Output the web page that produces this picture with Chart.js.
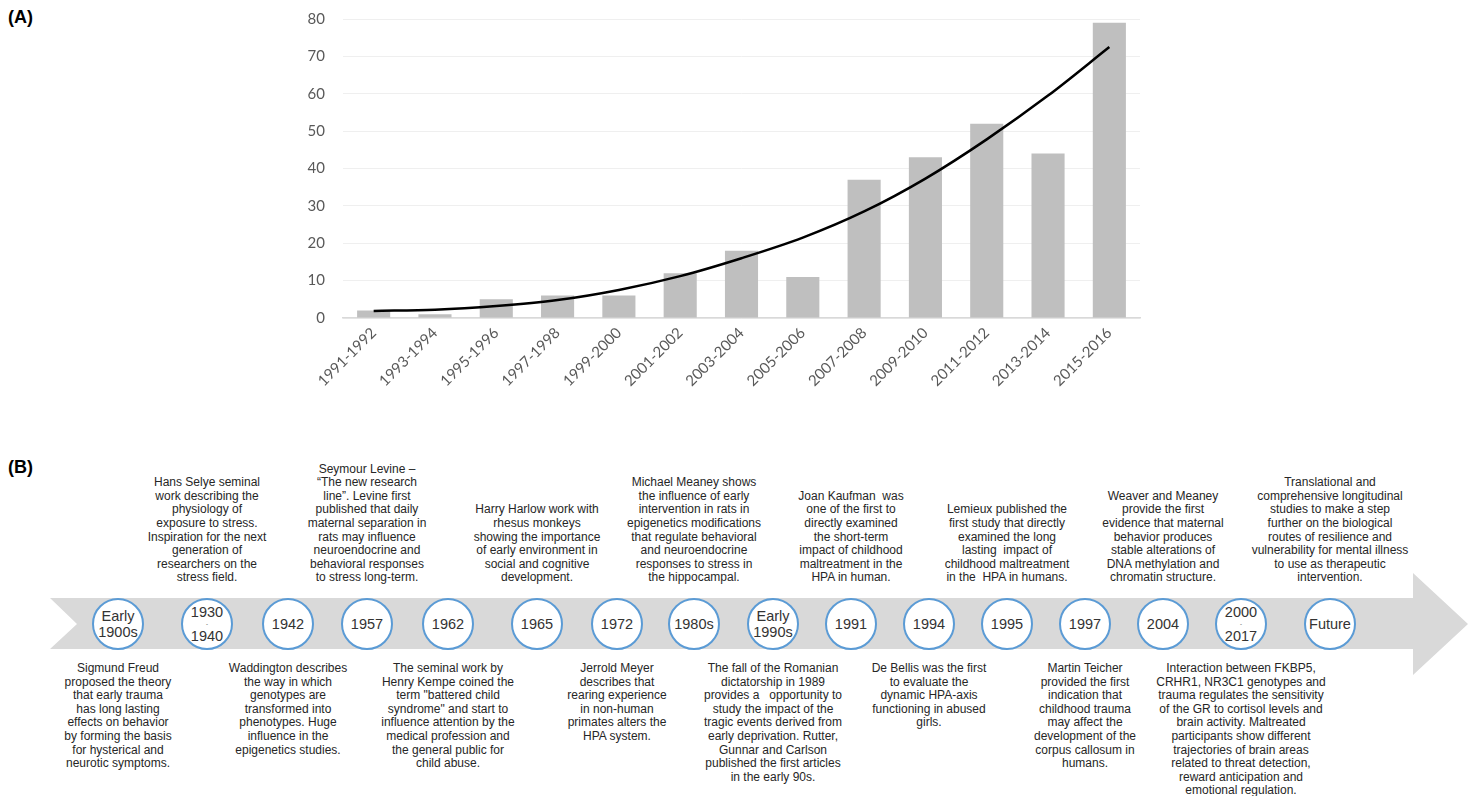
<!DOCTYPE html>
<html>
<head>
<meta charset="utf-8">
<script src="https://cdn.jsdelivr.net/npm/chart.js@4.4.1/dist/chart.umd.min.js"></script>
<style>
  body { margin: 0; background: #fff; }
  #page { position: relative; width: 1473px; height: 796px; overflow: hidden; font-family: "Liberation Sans", Arial, sans-serif; }
  .panel { position: absolute; font-weight: bold; font-size: 18px; color: #000; }
  #chartBox { position: absolute; left: 0; top: 0; width: 1473px; height: 420px; }
  #band { position: absolute; left: 50px; top: 573px; width: 1418px; height: 102px; background: #d9d9d9;
    clip-path: polygon(0 25px, 1363px 25px, 1363px 0, 1418px 51px, 1363px 102px, 1363px 76px, 0 76px, 27px 51px); }
  .dot { position: absolute; width: 48px; height: 48px; border: 2px solid #5b9bd5; border-radius: 50%; background: #fff;
    transform: translate(-50%, -50%); display: flex; flex-direction: column; align-items: center; justify-content: center;
    font-size: 14.5px; line-height: 16px; color: #333; text-align: center; }
  .dot .sep { font-size: 6px; line-height: 8px; }
  .note { position: absolute; transform: translateX(-50%); white-space: pre; text-align: center;
    font-size: 12px; line-height: 13.6px; color: #262626; }
  .up { bottom: 211px; }
  .down { top: 662px; }
</style>
</head>
<body>
<div id="page">
  <div class="panel" style="left:8px; top:7px;">(A)</div>
  <div id="chartBox"><canvas id="pubChart" width="1473" height="420"></canvas></div>
  <div class="panel" style="left:8px; top:457px;">(B)</div>
  <div id="band"></div>
  <div id="timeline"></div>
</div>
<script>
// panel A: publications per two-year period
const periods = ["1991-1992", "1993-1994", "1995-1996", "1997-1998", "1999-2000", "2001-2002", "2003-2004",
  "2005-2006", "2007-2008", "2009-2010", "2011-2012", "2013-2014", "2015-2016"];
const publications = [2, 1, 5, 6, 6, 12, 18, 11, 37, 43, 52, 44, 79];
const trendValues = [1.9, 2.2, 3.2, 4.8, 7.5, 11.2, 16, 21.5, 28.5, 37.3, 47.8, 59.5, 72.5];
const yTicks = [0, 10, 20, 30, 40, 50, 60, 70, 80];

// panel B: timeline
const milestones = ["Early\n1900s", "1930\n-\n1940", "1942", "1957", "1962", "1965", "1972", "1980s",
  "Early\n1990s", "1991", "1994", "1995", "1997", "2004", "2000\n-\n2017", "Future"];
const milestoneX = [118, 207, 288, 367, 448, 537, 617, 694, 773, 851, 929, 1007, 1085, 1163, 1241, 1330];

const notesAbove = [
  [1, "Hans Selye seminal\nwork describing the\nphysiology of\nexposure to stress.\nInspiration for the next\ngeneration of\nresearchers on the\nstress field."],
  [3, "Seymour Levine –\n“The new research\nline”. Levine first\npublished that daily\nmaternal separation in\nrats may influence\nneuroendocrine and\nbehavioral responses\nto stress long-term."],
  [5, "Harry Harlow work with\nrhesus monkeys\nshowing the importance\nof early environment in\nsocial and cognitive\ndevelopment."],
  [7, "Michael Meaney shows\nthe influence of early\nintervention in rats in\nepigenetics modifications\nthat regulate behavioral\nand neuroendocrine\nresponses to stress in\nthe hippocampal."],
  [9, "Joan Kaufman  was\none of the first to\ndirectly examined\nthe short-term\nimpact of childhood\nmaltreatment in the\nHPA in human."],
  [11, "Lemieux published the\nfirst study that directly\nexamined the long\nlasting  impact of\nchildhood maltreatment\nin the  HPA in humans."],
  [13, "Weaver and Meaney\nprovide the first\nevidence that maternal\nbehavior produces\nstable alterations of\nDNA methylation and\nchromatin structure."],
  [15, "Translational and\ncomprehensive longitudinal\nstudies to make a step\nfurther on the biological\nroutes of resilience and\nvulnerability for mental illness\nto use as therapeutic\nintervention."]
];

const notesBelow = [
  [0, "Sigmund Freud\nproposed the theory\nthat early trauma\nhas long lasting\neffects on behavior\nby forming the basis\nfor hysterical and\nneurotic symptoms."],
  [2, "Waddington describes\nthe way in which\ngenotypes are\ntransformed into\nphenotypes. Huge\ninfluence in the\nepigenetics studies."],
  [4, "The seminal work by\nHenry Kempe coined the\nterm \"battered child\nsyndrome\" and start to\ninfluence attention by the\nmedical profession and\nthe general public for\nchild abuse."],
  [6, "Jerrold Meyer\ndescribes that\nrearing experience\nin non-human\nprimates alters the\nHPA system."],
  [8, "The fall of the Romanian\ndictatorship in 1989\nprovides a   opportunity to\nstudy the impact of the\ntragic events derived from\nearly deprivation. Rutter,\nGunnar and Carlson\npublished the first articles\nin the early 90s."],
  [10, "De Bellis was the first\nto evaluate the\ndynamic HPA-axis\nfunctioning in abused\ngirls."],
  [12, "Martin Teicher\nprovided the first\nindication that\nchildhood trauma\nmay affect the\ndevelopment of the\ncorpus callosum in\nhumans."],
  [14, "Interaction between FKBP5,\nCRHR1, NR3C1 genotypes and\ntrauma regulates the sensitivity\nof the GR to cortisol levels and\nbrain activity. Maltreated\nparticipants show different\ntrajectories of brain areas\nrelated to threat detection,\nreward anticipation and\nemotional regulation."]
];

const axisFont = { family: "Lato, 'Open Sans', sans-serif", size: 15 };

new Chart(document.getElementById("pubChart"), {
  data: {
    labels: periods,
    datasets: [
      {
        type: "line",
        data: trendValues,
        borderColor: "#000",
        borderWidth: 2.5,
        pointRadius: 0,
        cubicInterpolationMode: "monotone",
        order: 0
      },
      {
        type: "bar",
        data: publications,
        backgroundColor: "#bfbfbf",
        categoryPercentage: 1,
        barPercentage: 0.54,
        order: 1
      }
    ]
  },
  options: {
    responsive: false,
    animation: false,
    layout: { padding: { top: 19, right: 333, left: 0, bottom: 0 } },
    plugins: { legend: { display: false }, tooltip: { enabled: false } },
    scales: {
      x: {
        offset: true,
        grid: { display: false, drawTicks: false },
        border: { color: "#d9d9d9", width: 1.5 },
        ticks: { color: "#595959", font: axisFont, minRotation: 45, maxRotation: 45, padding: 6 },
        afterFit: s => { s.height = 102; s.paddingLeft = 0; s.paddingRight = 0; }
      },
      y: {
        min: 0,
        max: 80,
        afterBuildTicks: s => { s.ticks = yTicks.map(v => ({ value: v })); },
        grid: { color: "#efefef", drawTicks: false },
        border: { display: false },
        ticks: { color: "#595959", font: axisFont, padding: 18 },
        afterFit: s => { s.width = 343; s.paddingTop = 0; s.paddingBottom = 0; }
      }
    }
  }
});

const timeline = document.getElementById("timeline");
milestones.forEach((m, i) => {
  const dot = document.createElement("div");
  dot.className = "dot";
  dot.style.left = milestoneX[i] + "px";
  dot.style.top = "624px";
  m.split("\n").forEach(part => {
    const span = document.createElement("span");
    span.textContent = part;
    if (part === "-") span.className = "sep";
    dot.appendChild(span);
  });
  timeline.appendChild(dot);
});

function addNotes(list, cls) {
  list.forEach(([idx, text]) => {
    const el = document.createElement("div");
    el.className = "note " + cls;
    el.style.left = milestoneX[idx] + "px";
    el.textContent = text;
    timeline.appendChild(el);
  });
}
addNotes(notesAbove, "up");
addNotes(notesBelow, "down");
</script>
</body>
</html>
